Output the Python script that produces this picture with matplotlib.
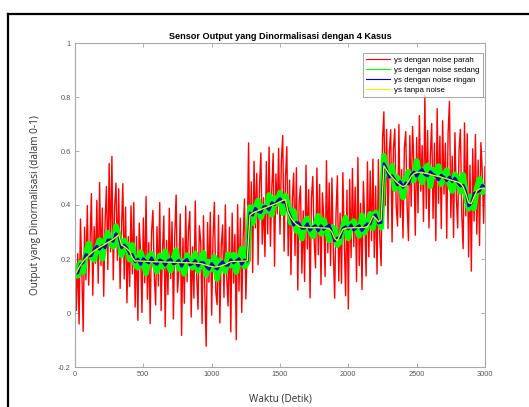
import numpy as np
import matplotlib.pyplot as plt
from matplotlib.lines import Line2D

# sampling grids (detik)
t_fine = np.arange(0, 3001, 10)
t = np.arange(0, 3001, 20)

ys_clean = [
    0.140, 0.160, 0.178, 0.192, 0.203, 0.213, 0.222, 0.230, 0.237, 0.243,
    0.249, 0.255, 0.261, 0.267, 0.273, 0.281, 0.290, 0.252, 0.246, 0.238,
    0.228, 0.205, 0.192, 0.193, 0.192, 0.192, 0.191, 0.191, 0.190, 0.190,
    0.190, 0.189, 0.189, 0.189, 0.188, 0.188, 0.188, 0.187, 0.187, 0.187,
    0.186, 0.186, 0.186, 0.185, 0.185, 0.184, 0.183, 0.180, 0.177, 0.174,
    0.172, 0.170, 0.171, 0.173, 0.176, 0.180, 0.186, 0.190, 0.191, 0.191,
    0.191, 0.192, 0.192, 0.193, 0.362, 0.370, 0.375, 0.379, 0.383, 0.387,
    0.391, 0.395, 0.399, 0.403, 0.407, 0.412, 0.417, 0.420, 0.372, 0.352,
    0.338, 0.328, 0.321, 0.318, 0.317, 0.317, 0.316, 0.316, 0.317, 0.316,
    0.315, 0.315, 0.314, 0.312, 0.300, 0.275, 0.268, 0.290, 0.310, 0.314,
    0.315, 0.315, 0.316, 0.316, 0.316, 0.317, 0.317, 0.320, 0.336, 0.360,
    0.350, 0.338, 0.345, 0.545, 0.530, 0.515, 0.503, 0.492, 0.482, 0.474,
    0.468, 0.472, 0.488, 0.505, 0.516, 0.520, 0.521, 0.520, 0.518, 0.516,
    0.513, 0.510, 0.508, 0.506, 0.503, 0.500, 0.497, 0.494, 0.491, 0.488,
    0.485, 0.480, 0.468, 0.440, 0.408, 0.405, 0.430, 0.452, 0.460, 0.462,
    0.462,
]

ys_ringan = [
    0.148, 0.148, 0.181, 0.186, 0.217, 0.211, 0.212, 0.235, 0.248, 0.236,
    0.250, 0.241, 0.270, 0.271, 0.265, 0.294, 0.285, 0.241, 0.252, 0.240,
    0.219, 0.217, 0.189, 0.200, 0.179, 0.202, 0.191, 0.185, 0.205, 0.186,
    0.180, 0.197, 0.192, 0.177, 0.194, 0.199, 0.181, 0.186, 0.196, 0.173,
    0.191, 0.199, 0.178, 0.183, 0.195, 0.173, 0.187, 0.187, 0.172, 0.161,
    0.184, 0.171, 0.162, 0.179, 0.190, 0.177, 0.176, 0.198, 0.185, 0.193,
    0.202, 0.180, 0.197, 0.192, 0.371, 0.362, 0.388, 0.375, 0.372, 0.394,
    0.394, 0.381, 0.409, 0.401, 0.413, 0.424, 0.410, 0.411, 0.376, 0.353,
    0.325, 0.336, 0.332, 0.313, 0.314, 0.331, 0.306, 0.318, 0.324, 0.304,
    0.324, 0.309, 0.319, 0.325, 0.299, 0.267, 0.278, 0.279, 0.313, 0.320,
    0.311, 0.327, 0.307, 0.317, 0.324, 0.304, 0.321, 0.331, 0.329, 0.358,
    0.364, 0.333, 0.335, 0.554, 0.533, 0.503, 0.509, 0.493, 0.474, 0.487,
    0.465, 0.482, 0.477, 0.510, 0.523, 0.506, 0.523, 0.532, 0.512, 0.507,
    0.524, 0.514, 0.507, 0.493, 0.511, 0.503, 0.490, 0.504, 0.486, 0.500,
    0.483, 0.470, 0.474, 0.449, 0.396, 0.406, 0.443, 0.448, 0.452, 0.473,
    0.467,
]

ys_sedang = [
    0.171, 0.138, 0.186, 0.152, 0.222, 0.257, 0.207, 0.197, 0.242, 0.270,
    0.201, 0.267, 0.297, 0.258, 0.246, 0.322, 0.286, 0.214, 0.268, 0.253,
    0.198, 0.252, 0.180, 0.168, 0.225, 0.195, 0.147, 0.209, 0.219, 0.183,
    0.154, 0.213, 0.170, 0.228, 0.186, 0.157, 0.201, 0.232, 0.164, 0.193,
    0.145, 0.214, 0.195, 0.168, 0.220, 0.156, 0.184, 0.223, 0.143, 0.190,
    0.161, 0.207, 0.126, 0.194, 0.180, 0.154, 0.218, 0.176, 0.216, 0.152,
    0.201, 0.238, 0.172, 0.187, 0.392, 0.333, 0.392, 0.417, 0.354, 0.394,
    0.378, 0.437, 0.364, 0.426, 0.404, 0.446, 0.370, 0.434, 0.398, 0.334,
    0.378, 0.304, 0.323, 0.276, 0.337, 0.350, 0.306, 0.284, 0.328, 0.360,
    0.294, 0.344, 0.309, 0.269, 0.318, 0.311, 0.252, 0.263, 0.318, 0.353,
    0.277, 0.330, 0.340, 0.308, 0.286, 0.362, 0.298, 0.323, 0.367, 0.314,
    0.372, 0.350, 0.317, 0.582, 0.516, 0.514, 0.544, 0.459, 0.501, 0.480,
    0.428, 0.499, 0.523, 0.493, 0.492, 0.563, 0.512, 0.484, 0.534, 0.546,
    0.469, 0.531, 0.506, 0.544, 0.477, 0.509, 0.529, 0.477, 0.452, 0.513,
    0.498, 0.449, 0.512, 0.434, 0.386, 0.433, 0.388, 0.462, 0.496, 0.447,
    0.466,
]

ys_parah = [
    0.240, 0.010, 0.220, -0.041, 0.348, 0.155, -0.068, 0.318, 0.123, 0.398,
    0.103, 0.258, 0.442, 0.066, 0.320, 0.184, 0.417, 0.110, 0.483, 0.176,
    0.389, 0.062, 0.335, 0.468, 0.161, 0.554, 0.227, 0.580, 0.123, 0.397,
    0.481, 0.195, 0.460, 0.091, 0.312, 0.479, 0.126, 0.392, 0.038, 0.283,
    0.098, 0.397, 0.145, 0.409, 0.022, 0.283, -0.027, 0.333, 0.222, 0.002,
    0.352, 0.112, 0.431, 0.051, 0.261, -0.039, 0.300, 0.380, 0.140, 0.030,
    0.320, 0.100, 0.409, 0.009, 0.229, 0.359, -0.051, 0.269, 0.068, 0.388,
    0.128, 0.338, -0.022, 0.288, 0.437, 0.077, 0.157, 0.367, -0.083, 0.277,
    0.036, 0.396, 0.116, 0.306, 0.376, -0.015, 0.245, 0.055, 0.415, 0.144,
    0.014, 0.323, 0.263, -0.039, 0.360, 0.078, -0.123, 0.335, 0.114, 0.373,
    -0.008, 0.281, 0.410, 0.080, 0.031, 0.362, -0.037, 0.244, 0.326, 0.058,
    0.400, 0.133, 0.026, 0.318, -0.070, 0.370, 0.111, 0.291, -0.099, 0.401,
    0.081, 0.351, 0.002, 0.272, 0.422, 0.052, 0.243, 0.630, 0.192, 0.486,
    0.150, 0.562, 0.315, 0.517, 0.179, 0.471, 0.593, 0.255, 0.427, 0.209,
    0.561, 0.293, 0.615, 0.247, 0.459, 0.591, 0.173, 0.515, 0.367, 0.610,
    0.292, 0.565, 0.657, 0.229, 0.500, 0.616, 0.212, 0.492, 0.142, 0.415,
    0.518, 0.213, 0.538, 0.085, 0.411, 0.470, 0.148, 0.378, 0.117, 0.547,
    0.237, 0.457, 0.056, 0.426, 0.506, 0.266, 0.167, 0.537, 0.216, 0.476,
    0.105, 0.445, 0.355, 0.135, 0.564, 0.223, 0.482, 0.176, 0.500, 0.228,
    0.055, 0.372, 0.508, 0.119, 0.370, 0.110, 0.520, 0.272, 0.064, 0.455,
    0.015, 0.495, 0.205, 0.535, 0.246, 0.466, 0.116, 0.576, 0.176, 0.406,
    0.087, 0.487, 0.347, 0.137, 0.560, 0.208, 0.526, 0.268, 0.570, 0.205,
    0.470, 0.144, 0.568, 0.282, 0.175, 0.640, 0.745, 0.398, 0.680, 0.313,
    0.595, 0.679, 0.263, 0.608, 0.682, 0.397, 0.322, 0.698, 0.354, 0.531,
    0.278, 0.610, 0.672, 0.400, 0.268, 0.657, 0.395, 0.691, 0.546, 0.288,
    0.650, 0.371, 0.731, 0.451, 0.620, 0.339, 0.808, 0.387, 0.676, 0.315,
    0.583, 0.702, 0.350, 0.629, 0.268, 0.757, 0.406, 0.655, 0.313, 0.712,
    0.440, 0.629, 0.277, 0.666, 0.784, 0.353, 0.581, 0.280, 0.668, 0.437,
    0.315, 0.603, 0.680, 0.364, 0.238, 0.704, 0.360, 0.664, 0.208, 0.547,
    0.155, 0.608, 0.340, 0.661, 0.292, 0.566, 0.250, 0.631, 0.522, 0.332,
    0.542,
]

labels = ['ys dengan noise parah', 'ys dengan noise sedang',
          'ys dengan noise ringan', 'ys tanpa noise']
xticks = [0, 500, 1000, 1500, 2000, 2500, 3000]
yticks = [-0.2, 0, 0.2, 0.4, 0.6, 0.8, 1]
ytick_labels = ['-0.2', '0', '0.2', '0.4', '0.6', '0.8', '1']

plt.rcParams['font.family'] = ['Liberation Sans', 'DejaVu Sans']

fig = plt.figure(figsize=(5.29, 4.07), dpi=100)
ax = fig.add_axes([75/529, 1 - 367/407, 410/529, 324/407])

ax.plot(t_fine, ys_parah, color='#ff0000', lw=1.0, label=labels[0])
ax.plot(t, ys_sedang, color='#00ff00', lw=4.2, label=labels[1])
ax.plot(t, ys_ringan, color='#0000c8', lw=1.9, label=labels[2])
ax.plot(t, ys_clean, color='#f0f000', lw=1.0, label=labels[3])

ax.set_xlim(0, 3000)
ax.set_ylim(-0.2, 1)
ax.set_xticks(xticks)
ax.set_yticks(yticks)
ax.set_yticklabels(ytick_labels)
ax.tick_params(direction='in', length=2.8, width=0.6, colors='#a0a0a0',
               labelcolor='#555555', labelsize=5.3, top=True, right=True, pad=3)
for s in ax.spines.values():
    s.set_color('#a8a8a8')
    s.set_linewidth(0.8)

ax.set_title('Sensor Output yang Dinormalisasi dengan 4 Kasus',
             fontsize=6.6, fontweight='bold', pad=3)
ax.set_xlabel('Waktu (Detik)', fontsize=7.2, family='Open Sans',
              color='#303030', labelpad=11)
ax.set_ylabel('Output yang Dinormalisasi (dalam 0-1)', fontsize=7.2,
              family='Open Sans', color='#303030', labelpad=12)

leg = ax.legend(loc='upper right', bbox_to_anchor=(0.995, 0.969), fontsize=5.7,
                frameon=True, fancybox=False, edgecolor='#909090',
                handlelength=3.0, labelspacing=0.3, borderpad=0.4,
                handletextpad=0.6, borderaxespad=0)
leg.get_frame().set_linewidth(0.7)
for h in leg.get_lines():
    h.set_linewidth(0.8)

# black screenshot frame
fig.add_artist(Line2D([8/529, 8/529], [0, 1 - 14/407], color='black', lw=1.6,
                      transform=fig.transFigure))
fig.add_artist(Line2D([8/529, 1], [1 - 14/407, 1 - 14/407], color='black',
                      lw=1.6, transform=fig.transFigure))

fig.savefig('out.png', dpi=100)
